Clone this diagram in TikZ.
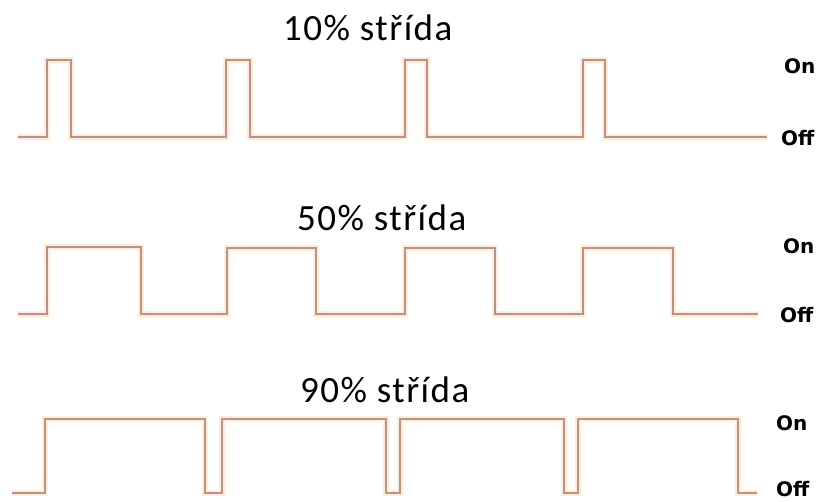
\documentclass[tikz,border=0pt]{standalone}
\usepackage{fontspec}
\setmainfont{Carlito}
\newfontfamily\labelfont{DejaVu Sans}
\definecolor{wave}{RGB}{186,148,126}
\definecolor{glow}{RGB}{255,236,222}
\begin{document}
\begin{tikzpicture}[x=1pt,y=-1pt,
  signal/.style={draw=wave,line width=2.6pt,line join=miter},
  halo/.style={draw=glow,line width=6pt,line join=miter},
  title/.style={font=\fontsize{37}{40}\selectfont\addfontfeature{LetterSpace=4},inner sep=0pt,anchor=base west},
  level/.style={font=\labelfont\bfseries\fontsize{20}{22}\selectfont,inner sep=0pt,anchor=west}]
\useasboundingbox[fill=white] (0,0) rectangle (819,501);

% 10 % duty cycle
\node[title] (t1) at (283,40) {10\% střída};
\foreach \p in {halo,signal}
  \draw[\p] (18,137) -- (47,137) -- (47,60) -- (71,60) -- (71,137)
    -- (226,137) -- (226,60) -- (250,60) -- (250,137)
    -- (405,137) -- (405,60) -- (427,60) -- (427,137)
    -- (583,137) -- (583,60) -- (605,60) -- (605,137) -- (767,137);
\node[level] (on1) at (784,66) {On};
\node[level] (off1) at (781,138) {Off};

% 50 % duty cycle
\node[title] (t2) at (297,230) {50\% střída};
\foreach \p in {halo,signal}
  \draw[\p] (18,314) -- (47,314) -- (47,247) -- (141,247) -- (141,314)
    -- (227,314) -- (227,248) -- (316,248) -- (316,314)
    -- (405,314) -- (405,248) -- (495,248) -- (495,314)
    -- (583,314) -- (583,248) -- (673,248) -- (673,314) -- (758,314);
\node[level] (on2) at (783,246) {On};
\node[level] (off2) at (780,315) {Off};

% 90 % duty cycle
\node[title] (t3) at (300,402) {90\% střída};
\foreach \p in {halo,signal}
  \draw[\p] (12,493) -- (45,493) -- (45,419) -- (205,419) -- (205,493)
    -- (222,493) -- (222,419) -- (386,419) -- (386,493)
    -- (400,493) -- (400,419) -- (564,419) -- (564,493)
    -- (578,493) -- (578,419) -- (738,419) -- (738,493) -- (757,493);
\node[level] (on3) at (776,423) {On};
\node[level] (off3) at (776,489) {Off};
\end{tikzpicture}
\end{document}
